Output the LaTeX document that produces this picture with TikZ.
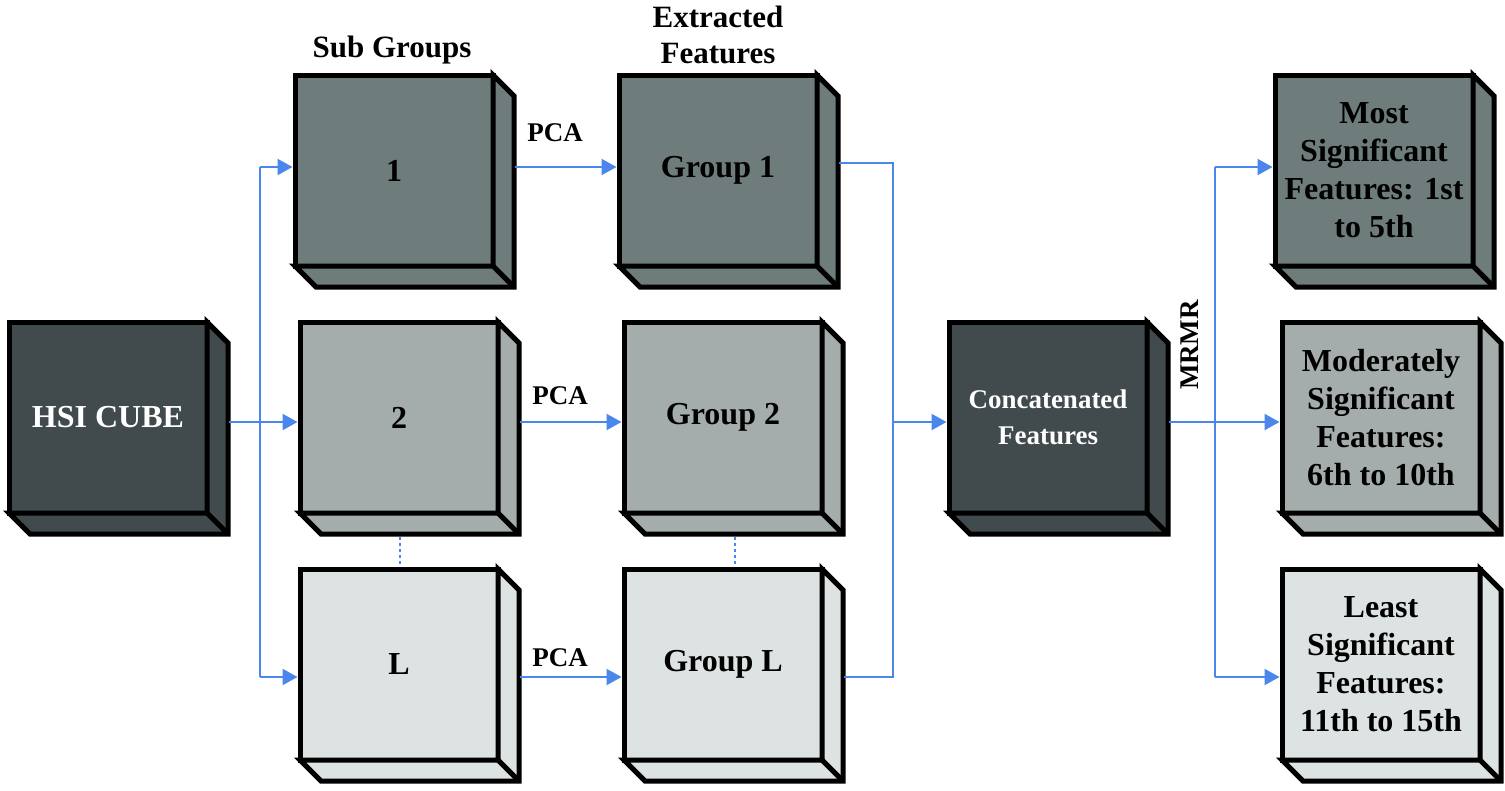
\documentclass[tikz,border=0pt]{standalone}
\usepackage{fontspec}
\setmainfont{Liberation Serif}
\usetikzlibrary{arrows.meta,calc}
\definecolor{cdark}{HTML}{414A4C}
\definecolor{cone}{HTML}{6F7C7C}
\definecolor{ctwo}{HTML}{A4ADAC}
\definecolor{cthree}{HTML}{DDE2E2}
\definecolor{cblue}{HTML}{4A86EC}
\begin{document}
\begin{tikzpicture}[x=1pt,y=-1pt,
 cube/.style={draw=black, line width=5pt, minimum width=198pt, minimum height=191pt, inner sep=0pt, outer sep=0pt, anchor=north west, align=center, font=\bfseries\fontsize{32}{38}\selectfont},
 conn/.style={draw=cblue, line width=2.2pt},
 arr/.style={conn, -{Triangle[length=15pt,width=16pt]}, shorten >=2.5pt},
 dots/.style={draw=cblue, line width=2pt, dash pattern=on 3pt off 3pt},
 lbl/.style={font=\bfseries\fontsize{27}{30}\selectfont, inner sep=0pt},
 title/.style={font=\bfseries\fontsize{31}{36}\selectfont, align=center, inner sep=0pt},
 side/.style={draw=black, line width=5pt, line join=miter}
]
\useasboundingbox (0,0) rectangle (1505,790);

% front faces
\node[cube, fill=cdark, text=white] (hsi) at (9,322) {HSI CUBE};
\node[cube, fill=cone] (b1) at (295,75) {1};
\node[cube, fill=ctwo] (b2) at (300,322) {2};
\node[cube, fill=cthree] (bL) at (300,569) {L};
\node[cube, fill=cone] (g1) at (619,75) {Group 1};
\node[cube, fill=ctwo] (g2) at (624,322) {Group 2};
\node[cube, fill=cthree] (gL) at (624,569) {Group L};
\node[cube, fill=cdark, text=white, font=\bfseries\fontsize{27}{36}\selectfont] (cc) at (949,322) {Concatenated\\Features};
\node[cube, fill=cone] (m1) at (1275,75) {Most\\Significant\\Features: 1st\\to 5th};
\node[cube, fill=ctwo] (m2) at (1282,322) {Moderately\\Significant\\Features:\\6th to 10th};
\node[cube, fill=cthree] (m3) at (1282,569) {Least\\Significant\\Features:\\11th to 15th};

% 3D sides
\foreach \n/\c in {hsi/cdark, b1/cone, b2/ctwo, bL/cthree, g1/cone, g2/ctwo, gL/cthree, cc/cdark, m1/cone, m2/ctwo, m3/cthree}{
  \filldraw[side, fill=\c] (\n.north east) -- ++(21,21) -- ($(\n.south east)+(21,21)$) -- ($(\n.south west)+(21,21)$) -- (\n.south west) -- (\n.south east) -- cycle;
  \draw[side] (\n.south east) -- ++(21,21);
}

% titles and labels
\node[title, anchor=base] (tsub) at (392,57) {Sub Groups};
\node[title, anchor=base] (text1) at (718,27) {Extracted};
\node[title, anchor=base] (text2) at (718,63) {Features};
\node[lbl, anchor=base] (p1) at (555,141) {PCA};
\node[lbl, anchor=base] (p2) at (560,404) {PCA};
\node[lbl, anchor=base] (p3) at (560,666) {PCA};
\node[lbl, rotate=90] (mrmr) at (1190,345) {MRMR};

% row levels and junctions
\coordinate (s1) at (260,167);
\coordinate (s2) at (260,422);
\coordinate (s3) at (260,677);
\coordinate (j1) at (893,163);
\coordinate (j2) at (893,422);
\coordinate (j3) at (893,677);
\coordinate (k1) at (1215,167);
\coordinate (k2) at (1215,422);
\coordinate (k3) at (1215,677);

% split from HSI cube
\draw[conn] ($(hsi.east |- s2)+(22,0)$) -- (s2);
\draw[conn] (s1) -- (s3);
\draw[arr] (s1) -- (b1.west |- s1);
\draw[arr] (s2) -- (b2.west |- s2);
\draw[arr] (s3) -- (bL.west |- s3);

% PCA arrows
\draw[arr] ($(b1.east |- s1)+(22,0)$) -- (g1.west |- s1);
\draw[arr] ($(b2.east |- s2)+(22,0)$) -- (g2.west |- s2);
\draw[arr] ($(bL.east |- s3)+(22,0)$) -- (gL.west |- s3);

% concatenation
\draw[conn] ($(g1.east |- j1)+(22,0)$) -- (j1) -- (j3) -- ($(gL.east |- j3)+(22,0)$);
\draw[arr] (j2) -- (cc.west |- j2);

% MRMR split
\draw[conn] ($(cc.east |- k2)+(22,0)$) -- (k2);
\draw[conn] (k1) -- (k3);
\draw[arr] (k1) -- (m1.west |- k1);
\draw[arr] (k2) -- (m2.west |- k2);
\draw[arr] (k3) -- (m3.west |- k3);

% dotted continuation
\draw[dots] ($(b2.south west)+(100,24)$) -- ($(bL.north west)+(100,-2.5)$);
\draw[dots] ($(g2.south west)+(111,24)$) -- ($(gL.north west)+(111,-2.5)$);
\end{tikzpicture}
\end{document}
